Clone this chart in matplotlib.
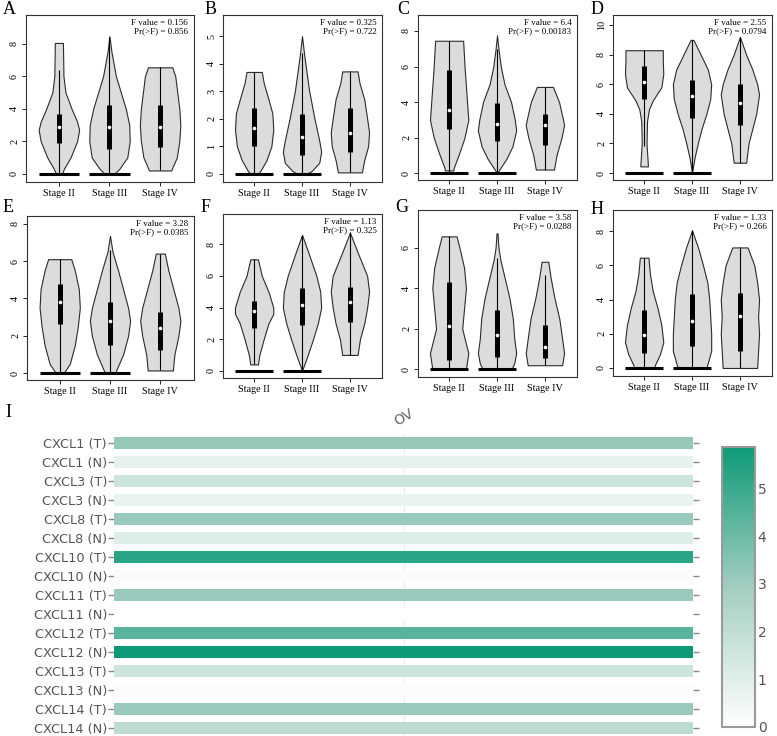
import numpy as np
import matplotlib
matplotlib.use("Agg")
import matplotlib.pyplot as plt
from matplotlib.colors import LinearSegmentedColormap, Normalize
from matplotlib.cm import ScalarMappable

# ---- violin panels A-H ----
stages = ["Stage II", "Stage III", "Stage IV"]
letters = ["A", "B", "C", "D", "E", "F", "G", "H"]
f_values = ["0.156", "0.325", "6.4", "2.55", "3.28", "1.13", "3.58", "1.33"]
p_values = ["0.856", "0.722", "0.00183", "0.0794", "0.0385", "0.325", "0.0288", "0.266"]
tick_step = [2, 1, 2, 2, 2, 2, 2, 2]

# box statistics per panel, one entry per stage
q1 = [[1.9, 1.5, 1.65], [1.02, 0.67, 0.78], [2.5, 1.8, 1.6], [5.0, 3.75, 3.25],
      [2.65, 1.5, 1.25], [2.7, 2.9, 3.1], [0.45, 0.6, 0.55], [0.85, 1.3, 1.0]]
medians = [[2.85, 2.9, 2.9], [1.65, 1.35, 1.48], [3.55, 2.75, 2.7], [6.15, 5.2, 4.75],
           [3.8, 2.8, 2.4], [3.75, 4.15, 4.35], [2.15, 1.7, 1.1], [1.95, 2.75, 3.05]]
q3 = [[3.7, 4.2, 4.2], [2.38, 2.18, 2.4], [5.8, 3.95, 3.35], [7.2, 6.3, 6.0],
      [4.75, 3.8, 3.3], [4.4, 5.25, 5.3], [4.3, 2.9, 2.2], [3.4, 4.35, 4.4]]
whisk_lo = [[0, 0, 0.2], [0, 0, 0.05], [0, 0, 0.2], [1.8, 0, 0.7],
            [0, 0, 0.15], [0.4, 0, 1.0], [0, 0, 0.2], [0, 0, 0]]
whisk_hi = [[6.4, 8.4, 6.55], [3.7, 4.4, 3.72], [7.45, 7.0, 4.85], [8.3, 9.0, 9.2],
            [6.1, 6.6, 6.4], [7.05, 8.6, 8.75], [6.55, 5.5, 4.65], [6.45, 8.05, 7.05]]
zero_bar = [[1, 1, 0]] * 8

# violin outlines: (heights, half widths)
shapes = [
    [([0, 0.3, 1, 2, 2.7, 3.2, 4, 5, 6, 8.05], [0.06, 0.1, 0.23, 0.36, 0.40, 0.36, 0.25, 0.13, 0.09, 0.08]),
     ([0, 0.3, 1, 2, 3, 4, 5, 6, 7.5, 8.45], [0.1, 0.2, 0.36, 0.41, 0.40, 0.33, 0.23, 0.13, 0.04, 0.0]),
     ([0.2, 0.5, 1, 2, 3, 4, 5, 6, 6.55], [0.22, 0.26, 0.33, 0.38, 0.40, 0.38, 0.34, 0.30, 0.24])],
    [([0, 0.1, 0.5, 1, 1.6, 2.2, 2.7, 3.3, 3.7], [0.08, 0.13, 0.26, 0.36, 0.40, 0.38, 0.3, 0.2, 0.16]),
     ([0, 0.1, 0.4, 0.8, 1.2, 2, 3, 4, 4.4, 5.0], [0.1, 0.2, 0.36, 0.40, 0.36, 0.26, 0.15, 0.07, 0.04, 0.0]),
     ([0.05, 0.5, 1, 1.5, 2, 2.7, 3.3, 3.72], [0.25, 0.3, 0.38, 0.40, 0.36, 0.3, 0.2, 0.16])],
    [([0.15, 0.3, 1, 2, 3, 4.5, 6, 7.45], [0.09, 0.1, 0.2, 0.33, 0.41, 0.37, 0.33, 0.3]),
     ([0, 0.8, 1.5, 2.4, 3, 4, 5, 6, 7, 7.75], [0.0, 0.2, 0.33, 0.41, 0.38, 0.3, 0.16, 0.08, 0.03, 0.0]),
     ([0.2, 1, 2, 2.7, 3, 4, 4.85], [0.18, 0.23, 0.33, 0.38, 0.36, 0.28, 0.16])],
    [([0.45, 2, 3.5, 4.3, 4.9, 5.8, 6.7, 7.6, 8.3], [0.08, 0.05, 0.06, 0.1, 0.18, 0.36, 0.40, 0.39, 0.39]),
     ([0, 1, 2, 3, 4, 5, 6, 7, 8, 9.0], [0.0, 0.05, 0.12, 0.2, 0.3, 0.38, 0.40, 0.33, 0.18, 0.03]),
     ([0.7, 2, 3, 4, 5.3, 6, 7, 8, 9.2], [0.13, 0.18, 0.26, 0.34, 0.40, 0.36, 0.26, 0.13, 0.0])],
    [([0, 0.1, 0.5, 1.5, 2.5, 3.5, 4.5, 5.5, 6.1], [0.08, 0.1, 0.2, 0.3, 0.36, 0.40, 0.38, 0.3, 0.23]),
     ([0, 0.2, 1, 2, 2.8, 3.5, 4.5, 5.5, 6.5, 7.35], [0.1, 0.13, 0.26, 0.36, 0.40, 0.36, 0.26, 0.16, 0.05, 0.0]),
     ([0.15, 1, 2, 2.8, 3.5, 4.5, 5.5, 6.4], [0.25, 0.28, 0.36, 0.40, 0.36, 0.26, 0.16, 0.09])],
    [([0.4, 1, 2, 3, 3.6, 4, 5, 6, 7.05], [0.08, 0.11, 0.2, 0.3, 0.40, 0.40, 0.3, 0.16, 0.08]),
     ([0, 1, 2, 3, 4, 5, 6, 7.5, 8.6], [0.0, 0.12, 0.23, 0.33, 0.40, 0.38, 0.3, 0.13, 0.0]),
     ([1.0, 2, 3, 4, 5, 6, 7.5, 8.75], [0.16, 0.21, 0.3, 0.36, 0.40, 0.36, 0.16, 0.0])],
    [([0, 0.8, 2, 3, 4, 5, 6, 6.55], [0.36, 0.41, 0.28, 0.32, 0.36, 0.32, 0.22, 0.16]),
     ([0, 0.3, 0.8, 1.5, 2.5, 3.5, 4.5, 5.4, 6, 6.7], [0.3, 0.36, 0.40, 0.36, 0.33, 0.26, 0.16, 0.07, 0.03, 0.01]),
     ([0.2, 0.8, 1.5, 2.5, 3.5, 4.5, 5.3], [0.36, 0.40, 0.36, 0.3, 0.2, 0.12, 0.07])],
    [([0, 0.2, 0.8, 1.5, 2.5, 3.5, 4.5, 5.5, 6.45], [0.2, 0.23, 0.33, 0.40, 0.36, 0.28, 0.18, 0.12, 0.09]),
     ([0, 0.3, 1, 2, 3, 4, 5, 6, 7, 8.05], [0.3, 0.33, 0.40, 0.40, 0.38, 0.36, 0.32, 0.23, 0.13, 0.0]),
     ([0, 1, 2, 3, 4, 5, 6, 7.05], [0.36, 0.38, 0.40, 0.38, 0.40, 0.36, 0.3, 0.16])],
]

# ---- heatmap panel I ----
genes = ["CXCL1 (T)", "CXCL1 (N)", "CXCL3 (T)", "CXCL3 (N)", "CXCL8 (T)", "CXCL8 (N)",
         "CXCL10 (T)", "CXCL10 (N)", "CXCL11 (T)", "CXCL11 (N)", "CXCL12 (T)", "CXCL12 (N)",
         "CXCL13 (T)", "CXCL13 (N)", "CXCL14 (T)", "CXCL14 (N)"]
expr = [3.2, 0.8, 1.6, 0.7, 3.1, 1.1, 5.3, 0.2, 3.1, 0.0, 4.4, 5.87, 1.6, 0.15, 3.1, 2.1]
cbar_ticks = [0, 1, 2, 3, 4, 5]

W, H = 777, 736
fig = plt.figure(figsize=(W / 100, H / 100), dpi=100)
SERIF = "Liberation Serif"


def px_axes(l, t, r, b):
    return fig.add_axes([l / W, 1 - b / H, (r - l) / W, (b - t) / H])


# axes boxes (left, top, right, bottom) in pixels and y limits
boxes = [(26, 15, 194, 182), (223, 15, 382, 182), (418, 15, 577, 180), (613, 15, 772, 180),
         (27, 216, 194, 380), (223, 214, 382, 378), (418, 210, 577, 377), (613, 210, 772, 376)]
ylims = [(-0.51, 9.77), (-0.30, 5.77), (-0.39, 8.9), (-0.47, 10.68),
         (-0.36, 8.41), (-0.46, 9.92), (-0.38, 7.85), (-0.47, 9.24)]
letter_pos = [(9, 9), (211, 10), (403, 10), (597, 10), (8, 207), (206, 207), (402, 208), (597, 210)]

pos = [1, 2, 3]
for i in range(8):
    ax = px_axes(*boxes[i])
    vpstats = []
    for j in range(3):
        ys, ws = shapes[i][j]
        vpstats.append(dict(coords=np.array(ys), vals=np.array(ws), mean=medians[i][j],
                            median=medians[i][j], min=whisk_lo[i][j], max=whisk_hi[i][j]))
    parts = ax.violin(vpstats, positions=pos, widths=0.8, showmeans=False,
                      showextrema=False, showmedians=False)
    for body in parts["bodies"]:
        body.set_facecolor("#DCDCDC")
        body.set_edgecolor("#2b2b2b")
        body.set_linewidth(0.8)
        body.set_alpha(1)
    for j, p in enumerate(pos):
        if zero_bar[i][j]:
            ax.hlines(0, p - 0.4, p + 0.4, color="black", lw=2.2, zorder=3)
        ax.vlines(p, whisk_lo[i][j], whisk_hi[i][j], color="black", lw=0.8, zorder=3)
        ax.vlines(p, q1[i][j], q3[i][j], color="black", lw=3.6, zorder=4)
    ax.scatter(pos, medians[i], s=7, color="white", zorder=5, linewidths=0)

    ax.set_xlim(0.35, 3.67)
    ax.set_ylim(*ylims[i])
    ax.set_xticks(pos, stages)
    ax.set_yticks(np.arange(0, ylims[i][1], tick_step[i]))
    for lab in ax.get_yticklabels():
        lab.set_rotation(90)
        lab.set_va("center")
    ax.tick_params(labelsize=7.3, length=3, width=0.6, pad=2)
    for lab in ax.get_xticklabels() + ax.get_yticklabels():
        lab.set_family(SERIF)
    for s in ax.spines.values():
        s.set_linewidth(0.8)
        s.set_color("#333333")
    ax.text(0.965, 0.975, "F value = " + f_values[i] + "\nPr(>F) = " + p_values[i],
            transform=ax.transAxes, ha="right", va="top", multialignment="right",
            fontsize=6.5, family=SERIF, linespacing=1.0)
    fig.text(letter_pos[i][0] / W, 1 - letter_pos[i][1] / H, letters[i], fontsize=13,
             family=SERIF, ha="center", va="center")

# heatmap
fig.text(8 / W, 1 - 412 / H, "I", fontsize=13, family=SERIF, ha="center", va="center")
cmap = LinearSegmentedColormap.from_list(
    "gepia", [(0, "#FFFFFF"), (0.5, "#A3CDC1"), (1, "#0E9A78")])
norm = Normalize(0, 5.87)
hax = px_axes(114, 433.5, 693, 737.5)
ypos = np.arange(len(genes))
hax.axvline(0.5, color="#EDEDED", lw=1, zorder=0)
hax.barh(ypos, 1, left=0, height=0.6, color=cmap(norm(expr)), zorder=2)
hax.set_xlim(0, 1)
hax.set_ylim(len(genes) - 0.5, -0.5)
hax.set_xticks([])
hax.set_yticks(ypos, genes)
hax.tick_params(axis="y", length=4, width=1, color="#888888", labelcolor="#555555",
                labelsize=9.3, pad=1, right=True)
for t in hax.yaxis.get_major_ticks():
    t.tick2line.set_color("#E3E3E3")
for s in hax.spines.values():
    s.set_visible(False)
hax.text(0.5, 1 + 16 / 304, "OV", transform=hax.transAxes, rotation=30, ha="center",
         va="center", fontsize=10, color="#666666")

cax = px_axes(722, 447, 755, 727)
cb = fig.colorbar(ScalarMappable(norm=norm, cmap=cmap), cax=cax)
cb.set_ticks(cbar_ticks)
cb.outline.set_edgecolor("#9A9A9A")
cb.outline.set_linewidth(1.5)
cax.tick_params(length=0, labelsize=10, labelcolor="#555555", pad=2)

fig.savefig("out.png", dpi=100)
